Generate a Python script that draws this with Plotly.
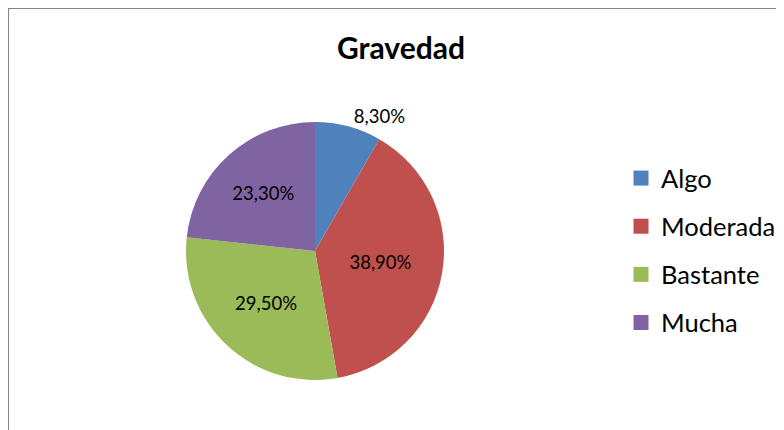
import plotly.graph_objects as go

categories = ["Algo", "Moderada", "Bastante", "Mucha"]
values = [8.3, 38.9, 29.5, 23.3]
colors = ["#4F81BD", "#C0504D", "#9BBB59", "#8064A2"]
text_positions = ["outside", "inside", "inside", "inside"]
title_text = "Gravedad"

# the page body adds an 8px margin, so figure coordinates are offset by -8
W, H = 784, 430
cx, cy, r = 307, 243, 129

fig = go.Figure()
fig.add_trace(go.Pie(
    labels=categories,
    values=values,
    sort=False,
    direction="clockwise",
    rotation=0,
    marker=dict(colors=colors, line=dict(width=0)),
    texttemplate="%{value:.2f}%",
    textposition=text_positions,
    textfont=dict(family="Lato", size=18.5, color="black"),
    insidetextorientation="horizontal",
    hoverinfo="label+value",
    showlegend=False,
    domain=dict(x=[(cx - r) / W, (cx + r) / W], y=[1 - (cy + r) / H, 1 - (cy - r) / H]),
))

# legend entries (one per category), so that the spacing between them can be set
for name, col in zip(categories, colors):
    fig.add_trace(go.Scatter(
        x=[None], y=[None], mode="markers", name=name, legendgroup=name,
        marker=dict(symbol="square", size=15, color=col, line=dict(width=0)),
        showlegend=True, hoverinfo="skip",
    ))

fig.update_layout(
    width=W, height=H,
    margin=dict(l=0, r=0, t=0, b=0),
    paper_bgcolor="white",
    plot_bgcolor="white",
    separators=",.",
    xaxis=dict(visible=False),
    yaxis=dict(visible=False),
    title=dict(text="<b>" + title_text + "</b>", x=393 / W, y=1 - 40 / H,
               xanchor="center", yanchor="middle",
               font=dict(family="Lato", size=30, color="black")),
    showlegend=True,
    legend=dict(x=613 / W, y=1 - 147 / H, xanchor="left", yanchor="top",
                traceorder="grouped", tracegroupgap=12,
                font=dict(family="Lato", size=25.5, color="black"),
                bgcolor="rgba(0,0,0,0)"),
    shapes=[dict(type="rect", xref="paper", yref="paper",
                 x0=0.3 / W, x1=1.2, y0=-0.2, y1=1 - 0.3 / H,
                 line=dict(color="#868686", width=1.5), fillcolor="rgba(0,0,0,0)",
                 layer="below")],
)

fig.write_html("out.html")
